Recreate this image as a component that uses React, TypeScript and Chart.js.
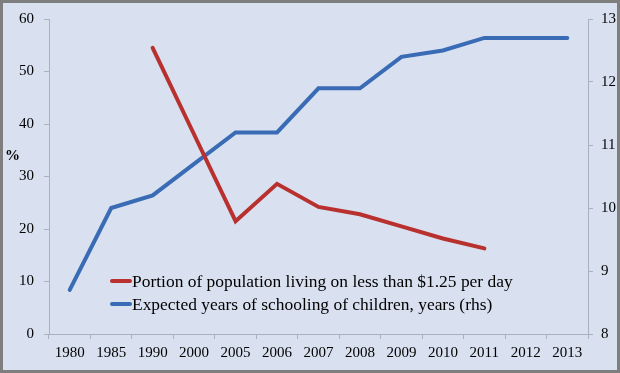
import React, { useEffect, useRef } from "react";
import { Chart, registerables } from "chart.js";

Chart.register(...registerables);

const years = ["1980", "1985", "1990", "2000", "2005", "2006", "2007", "2008", "2009", "2010", "2011", "2012", "2013"];
const povertyShare = [null, null, 54.5, 38.0, 21.5, 28.6, 24.2, 22.8, 20.5, 18.2, 16.3, null, null];
const schoolingYears = [8.7, 10.0, 10.2, 10.7, 11.2, 11.2, 11.9, 11.9, 12.4, 12.5, 12.7, 12.7, 12.7];
const povertyLabel = "Portion of population living on less than $1.25 per day";
const schoolingLabel = "Expected years of schooling of children, years (rhs)";
const leftAxisTitle = "%";
const leftRange = [0, 60, 10];
const rightRange = [8, 13, 1];

const RED = "#B8312F";
const BLUE = "#3A6BB5";
const AXIS = "#A9B1BF";
const BG = "#D9E1F0";
const FONT = "'Liberation Serif', serif";

const framePlugin = {
  id: "frame",
  beforeDraw(chart: any) {
    const { ctx, width, height } = chart;
    ctx.save();
    ctx.fillStyle = BG;
    ctx.fillRect(0, 0, width, height);
    ctx.strokeStyle = "#7E7E7E";
    ctx.lineWidth = 3;
    ctx.strokeRect(1.5, 1.5, width - 3, height - 3);
    ctx.restore();
  },
  afterDraw(chart: any) {
    const { ctx } = chart;
    ctx.save();
    ctx.fillStyle = "#000";
    ctx.font = `bold 15px ${FONT}`;
    ctx.textBaseline = "middle";
    ctx.textAlign = "left";
    ctx.fillText(leftAxisTitle, 5, 156);
    ctx.restore();
  },
};

const legendPlugin = {
  id: "innerLegend",
  afterDatasetsDraw(chart: any) {
    const { ctx } = chart;
    const x0 = 112;
    const rows = [281, 304];
    ctx.save();
    ctx.font = `17px ${FONT}`;
    const w = ctx.measureText(chart.data.datasets[0].label).width;
    const size = Math.max(12, Math.min(19, (17 * 381) / w));
    chart.data.datasets.forEach((ds: any, i: number) => {
      const y = rows[i];
      ctx.strokeStyle = ds.borderColor;
      ctx.lineWidth = 4;
      ctx.lineCap = "round";
      ctx.beginPath();
      ctx.moveTo(x0, y);
      ctx.lineTo(x0 + 18, y);
      ctx.stroke();
      ctx.fillStyle = "#000";
      ctx.font = `${size}px ${FONT}`;
      ctx.textBaseline = "middle";
      ctx.textAlign = "left";
      ctx.fillText(ds.label, x0 + 20, y + 1);
    });
    ctx.restore();
  },
};

export default function App() {
  const ref = useRef<HTMLCanvasElement>(null);
  useEffect(() => {
    if (!ref.current) return;
    const tickFont = { family: FONT, size: 15 };
    const chart = new Chart(ref.current, {
      type: "line",
      data: {
        labels: years,
        datasets: [
          {
            label: povertyLabel,
            data: povertyShare,
            borderColor: RED,
            backgroundColor: RED,
            borderWidth: 4,
            pointRadius: 0,
            tension: 0,
            borderCapStyle: "round",
            yAxisID: "y",
          },
          {
            label: schoolingLabel,
            data: schoolingYears,
            borderColor: BLUE,
            backgroundColor: BLUE,
            borderWidth: 4,
            pointRadius: 0,
            tension: 0,
            borderCapStyle: "round",
            yAxisID: "y1",
          },
        ],
      },
      options: {
        animation: false,
        responsive: false,
        layout: { padding: { top: 18, left: 0, right: 0, bottom: 0 } },
        plugins: { legend: { display: false }, tooltip: { enabled: false } },
        scales: {
          x: {
            offset: true,
            afterFit(s: any) { s.height = 39; },
            grid: { offset: true, drawOnChartArea: false, tickLength: 5, color: AXIS },
            border: { color: AXIS },
            ticks: { font: tickFont, color: "#000", padding: 5, maxRotation: 0 },
          },
          y: {
            position: "left",
            min: leftRange[0],
            max: leftRange[1],
            afterFit(s: any) { s.width = 49; },
            grid: { drawOnChartArea: false, tickLength: 5, color: AXIS },
            border: { color: AXIS },
            ticks: { stepSize: leftRange[2], font: tickFont, color: "#000", padding: 10 },
          },
          y1: {
            position: "right",
            min: rightRange[0],
            max: rightRange[1],
            afterFit(s: any) { s.width = 32; },
            grid: { drawOnChartArea: false, tickLength: 5, color: AXIS },
            border: { color: AXIS },
            ticks: { stepSize: rightRange[2], font: tickFont, color: "#000", padding: 8 },
          },
        },
      },
      plugins: [framePlugin, legendPlugin],
    } as any);
    return () => chart.destroy();
  }, []);
  return (
    <div style={{ position: "absolute", left: 0, top: 0, width: 620, height: 373 }}>
      <canvas ref={ref} width={620} height={373} style={{ display: "block" }} />
    </div>
  );
}
